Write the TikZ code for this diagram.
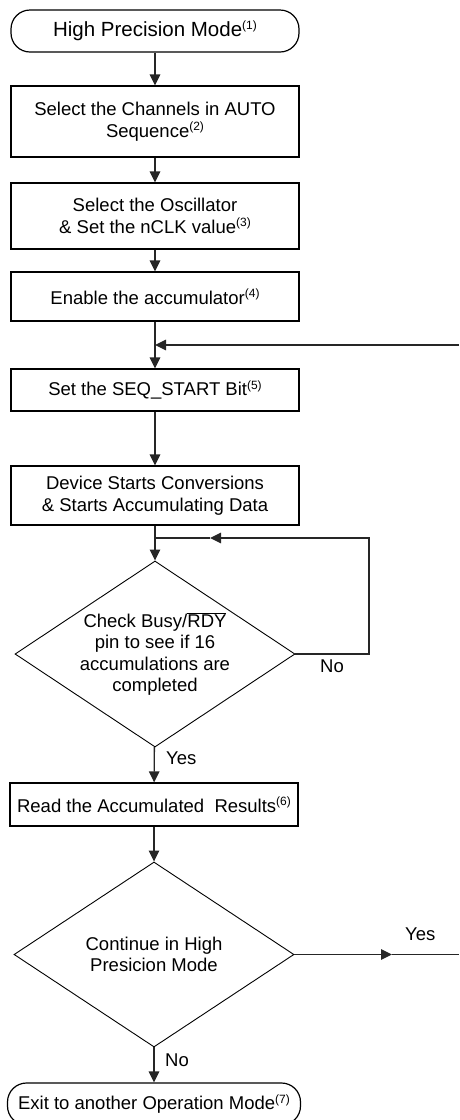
\documentclass[tikz,border=0pt]{standalone}
\usepackage{fontspec}
\setmainfont{Liberation Sans}
\usepackage{tikz}
\usetikzlibrary{arrows.meta,positioning,calc,shapes.geometric}
\newcommand{\fnref}[1]{\raisebox{6.5pt}{\fontsize{12}{12}\selectfont(#1)}}

\begin{document}
\begin{tikzpicture}[x=1pt, y=-1pt,
  txt/.style={font=\fontsize{18.5}{21.5}\selectfont},
  box/.style={draw, line width=1.2pt, minimum width=288pt, minimum height=#1, align=center, inner sep=0pt, txt},
  term/.style={draw, line width=1.2pt, rounded corners=19pt, minimum width=#1, minimum height=42pt, align=center, inner sep=0pt, txt},
  decision/.style={draw, diamond, line width=0.9pt, aspect=1.5, minimum width=280pt, minimum height=#1, align=center, inner sep=0pt, txt},
  line/.style={line width=1.3pt, draw=black!85},
  arrow/.style={line, -{Triangle[length=11pt, width=10.5pt]}},
  lbl/.style={txt, inner sep=0pt, anchor=north west},
]
\useasboundingbox (0,0) rectangle (459,1120);
\clip (0,0) rectangle (459,1120);

\node[term=288pt] (start) at (155,31) {\fontsize{20.5}{24}\selectfont High Precision Mode\fnref{1}};
\node[box=71pt] (sel) at (155,121.5) {Select the Channels in AUTO\\Sequence\fnref{2}};
\node[box=66pt] (osc) at (155,216) {Select the Oscillator\\\& Set the nCLK value\fnref{3}};
\node[box=49pt] (acc) at (155,296.5) {Enable the accumulator\fnref{4}};
\node[box=42pt] (seq) at (155,390) {Set the SEQ\_START Bit\fnref{5}};
\node[box=59pt] (dev) at (155,495.5) {Device Starts Conversions\\\& Starts Accumulating Data};
\node[decision=186pt] (chk) at (155,654) {Check Busy/$\overline{\hbox{RDY}}$\\pin to see if 16\\accumulations are\\completed};
\node[box=43pt] (read) at (154,804.5) {Read the Accumulated\ \ Results\fnref{6}};
\node[decision=185pt] (cont) at (154,954.5) {Continue in High\\Presicion Mode};
\node[term=293pt] (exit) at (154,1104) {Exit to another Operation Mode\fnref{7}};

\coordinate (merge) at (155,345);
\coordinate (back) at (459,345);
\coordinate (loopr) at (369,538);
\coordinate (loopm) at (210,538);
\coordinate (loopl) at (155,538);
\coordinate (yesm) at (392,954.5);
\coordinate (yese) at (459,954.5);

\node[lbl] (no1) at (320,660) {No};
\node[lbl] (yes1) at (166,752) {Yes};
\node[lbl] (yes2) at (405,928) {Yes};
\node[lbl] (no2) at (165,1054) {No};

\draw[arrow] (start) -- (sel);
\draw[arrow] (sel) -- (osc);
\draw[arrow] (osc) -- (acc);
\draw[arrow] (acc) -- (seq);
\draw[arrow] (back) -- (merge);
\draw[arrow] (seq) -- (dev);
\draw[arrow] (dev) -- (chk);
\draw[arrow] (chk.east) -| (loopr) -- (loopm);
\draw[line] (loopm) -- (loopl);
\draw[arrow] (chk) -- (read);
\draw[arrow] (read) -- (cont);
\draw[arrow] (cont.east) -- (yesm);
\draw[line] (yesm) -- (yese);
\draw[arrow] (cont) -- (exit);
\end{tikzpicture}
\end{document}
